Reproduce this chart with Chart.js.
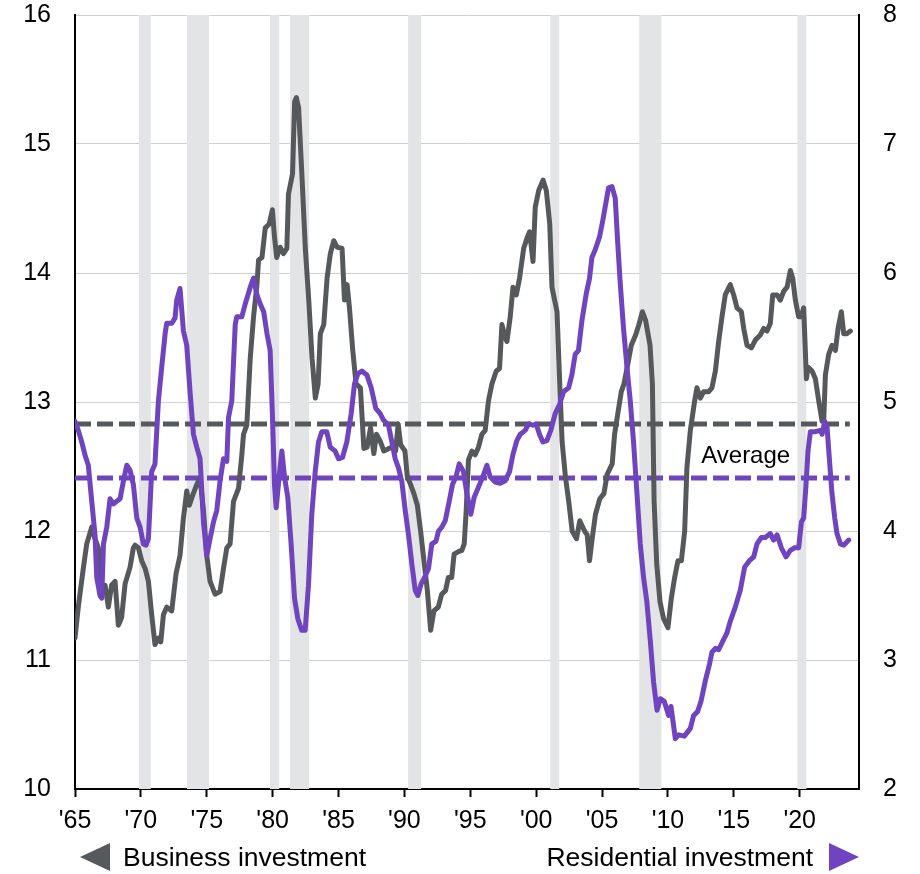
<!DOCTYPE html>
<html>
<head>
<meta charset="utf-8">
<script src="https://cdn.jsdelivr.net/npm/chart.js@4/dist/chart.umd.min.js"></script>
<style>
  body { margin: 0; background: #fff; }
  #wrap { position: relative; width: 920px; height: 874px; font-family: "Liberation Sans", Arial, sans-serif; }
  #chart { position: absolute; left: 0; top: 0; }
  .leg { position: absolute; top: 842px; font-size: 26.5px; line-height: 30px; color: #000; white-space: nowrap; }
  .tri { position: absolute; top: 843px; width: 0; height: 0; border-top: 14.5px solid transparent; border-bottom: 14.5px solid transparent; }
</style>
</head>
<body>
<div id="wrap">
  <canvas id="chart" width="920" height="874"></canvas>
  <div class="tri" style="left:80px; border-right:30px solid #56595b;"></div>
  <div class="leg" style="left:123px;">Business investment</div>
  <div class="leg" style="right:107px;">Residential investment</div>
  <div class="tri" style="left:829px; border-left:30px solid #7044be;"></div>
</div>
<script>
// business investment, % of GDP (left axis)
var bizYears = [1965.0,1965.25,1965.63,1965.89,1966.27,1966.52,1966.77,1967.03,1967.28,1967.53,1967.78,1968.04,1968.29,1968.54,1968.8,1969.18,1969.43,1969.56,1969.81,1970.06,1970.32,1970.57,1970.82,1971.07,1971.33,1971.51,1971.71,1971.96,1972.34,1972.67,1972.97,1973.23,1973.48,1973.68,1973.94,1974.24,1974.49,1974.75,1975.0,1975.25,1975.63,1976.01,1976.27,1976.52,1976.77,1977.03,1977.41,1977.66,1977.79,1978.04,1978.3,1978.55,1978.81,1978.93,1979.19,1979.44,1979.74,1979.98,1980.14,1980.31,1980.57,1980.82,1981.08,1981.2,1981.51,1981.67,1981.8,1981.97,1982.23,1982.48,1982.74,1982.99,1983.24,1983.45,1983.62,1983.88,1984.13,1984.38,1984.64,1984.89,1985.27,1985.45,1985.65,1985.83,1986.08,1986.33,1986.66,1986.79,1986.92,1987.17,1987.43,1987.68,1987.88,1988.19,1988.44,1988.82,1989.07,1989.33,1989.53,1989.71,1990.04,1990.22,1990.47,1990.72,1990.98,1991.23,1991.48,1991.74,1991.99,1992.24,1992.57,1992.83,1993.13,1993.33,1993.59,1993.77,1994.1,1994.36,1994.54,1994.69,1994.86,1995.12,1995.37,1995.62,1995.88,1996.13,1996.38,1996.64,1996.97,1997.22,1997.4,1997.65,1997.78,1998.03,1998.24,1998.49,1998.74,1999.05,1999.3,1999.5,1999.76,1999.93,2000.19,2000.52,2000.77,2001.03,2001.2,2001.58,2001.79,2001.97,2002.22,2002.47,2002.73,2003.06,2003.31,2003.67,2003.87,2004.05,2004.25,2004.5,2004.83,2005.14,2005.39,2005.77,2005.95,2006.15,2006.46,2006.66,2006.91,2007.22,2007.55,2007.8,2008.06,2008.31,2008.64,2008.82,2008.95,2009.15,2009.4,2009.67,2010.0,2010.26,2010.51,2010.76,2011.02,2011.27,2011.44,2011.7,2012.03,2012.2,2012.46,2012.71,2013.09,2013.34,2013.6,2013.85,2014.1,2014.35,2014.73,2014.99,2015.24,2015.57,2015.75,2016.0,2016.33,2016.63,2017.01,2017.27,2017.52,2017.77,2017.95,2018.28,2018.53,2018.79,2019.04,2019.29,2019.47,2019.67,2019.92,2020.1,2020.3,2020.51,2020.63,2020.94,2021.19,2021.44,2021.7,2021.82,2021.95,2022.2,2022.45,2022.71,2022.91,2023.16,2023.34,2023.59,2023.84];
var bizValues = [11.17,11.41,11.71,11.9,12.03,11.94,11.87,11.58,11.58,11.41,11.58,11.61,11.27,11.33,11.59,11.72,11.87,11.89,11.87,11.77,11.71,11.61,11.35,11.12,11.17,11.14,11.35,11.41,11.38,11.67,11.81,12.1,12.31,12.2,12.28,12.36,12.41,12.16,11.81,11.61,11.51,11.53,11.71,11.87,11.9,12.23,12.33,12.59,12.75,12.82,13.34,13.66,13.91,14.1,14.12,14.35,14.38,14.49,14.28,14.12,14.2,14.15,14.19,14.61,14.77,15.33,15.36,15.28,14.74,14.19,13.79,13.34,13.03,13.14,13.53,13.6,13.96,14.15,14.25,14.2,14.19,13.79,13.91,13.73,13.4,13.14,13.11,12.88,12.64,12.65,12.8,12.6,12.75,12.69,12.62,12.64,12.65,12.62,12.83,12.67,12.62,12.42,12.36,12.29,12.2,12.0,11.77,11.54,11.23,11.38,11.41,11.51,11.54,11.64,11.64,11.82,11.84,11.85,11.9,12.16,12.55,12.62,12.59,12.65,12.75,12.78,13.01,13.14,13.24,13.26,13.6,13.5,13.47,13.66,13.89,13.83,13.96,14.19,14.27,14.32,14.09,14.51,14.64,14.72,14.64,14.38,13.89,13.7,13.14,12.69,12.42,12.23,12.0,11.94,12.08,12.0,11.97,11.77,11.94,12.13,12.25,12.29,12.44,12.52,12.75,12.88,13.08,13.14,13.27,13.44,13.52,13.6,13.7,13.63,13.44,13.14,12.23,11.74,11.45,11.32,11.25,11.48,11.64,11.77,11.77,12.0,12.49,12.78,13.01,13.11,13.03,13.08,13.08,13.11,13.24,13.47,13.66,13.83,13.91,13.83,13.73,13.7,13.57,13.44,13.42,13.48,13.52,13.57,13.55,13.61,13.83,13.83,13.79,13.86,13.89,14.02,13.96,13.79,13.66,13.66,13.73,13.18,13.27,13.24,13.18,13.01,12.85,12.85,13.21,13.37,13.44,13.4,13.57,13.7,13.53,13.53,13.55];

// residential investment, % of GDP (right axis)
var resYears = [1965.0,1965.25,1965.51,1965.76,1966.01,1966.27,1966.52,1966.65,1966.9,1967.03,1967.16,1967.41,1967.66,1967.91,1968.17,1968.42,1968.68,1968.93,1969.18,1969.43,1969.69,1969.94,1970.19,1970.39,1970.57,1970.82,1971.07,1971.33,1971.58,1971.84,1971.96,1972.34,1972.59,1972.72,1972.97,1973.23,1973.48,1973.73,1973.99,1974.24,1974.49,1974.75,1975.0,1975.25,1975.51,1975.76,1976.01,1976.27,1976.52,1976.65,1976.9,1977.16,1977.28,1977.66,1977.92,1978.3,1978.55,1978.81,1979.06,1979.32,1979.57,1979.81,1979.99,1980.14,1980.27,1980.49,1980.7,1980.9,1981.15,1981.4,1981.66,1981.91,1982.21,1982.47,1982.72,1982.97,1983.23,1983.48,1983.73,1984.11,1984.37,1984.74,1985.0,1985.3,1985.63,1985.96,1986.21,1986.47,1986.77,1987.15,1987.48,1987.83,1988.16,1988.41,1988.79,1989.05,1989.3,1989.55,1989.81,1990.06,1990.31,1990.57,1990.82,1991.02,1991.27,1991.53,1991.83,1992.08,1992.39,1992.59,1992.84,1993.1,1993.4,1993.65,1993.91,1994.16,1994.48,1994.74,1995.04,1995.29,1995.62,1995.95,1996.26,1996.51,1996.89,1997.27,1997.65,1997.98,1998.23,1998.53,1998.79,1999.17,1999.42,1999.75,2000.0,2000.25,2000.51,2000.81,2001.11,2001.44,2001.77,2002.08,2002.46,2002.71,2002.96,2003.21,2003.47,2003.8,2004.05,2004.23,2004.48,2004.81,2005.06,2005.32,2005.49,2005.75,2006.0,2006.18,2006.38,2006.63,2006.89,2007.14,2007.39,2007.65,2007.9,2008.15,2008.4,2008.66,2008.91,2009.17,2009.42,2009.72,2010.05,2010.23,2010.56,2010.81,2011.24,2011.7,2011.95,2012.25,2012.51,2012.84,2013.16,2013.34,2013.6,2013.85,2014.23,2014.48,2014.73,2015.11,2015.49,2015.82,2016.18,2016.51,2016.76,2017.09,2017.39,2017.77,2018.02,2018.28,2018.61,2018.96,2019.29,2019.62,2019.92,2020.13,2020.3,2020.48,2020.63,2020.81,2021.19,2021.57,2021.7,2021.9,2022.08,2022.25,2022.45,2022.66,2022.83,2023.09,2023.34,2023.72];
var resValues = [4.85,4.78,4.69,4.59,4.51,4.23,3.97,3.64,3.5,3.48,3.9,4.03,4.25,4.21,4.23,4.25,4.39,4.51,4.47,4.36,4.1,4.03,3.9,3.89,3.94,4.46,4.52,5.01,5.27,5.53,5.61,5.61,5.65,5.79,5.88,5.55,5.44,5.08,4.75,4.65,4.56,4.07,3.81,3.94,4.07,4.16,4.39,4.56,4.54,4.88,5.01,5.6,5.66,5.66,5.76,5.89,5.96,5.83,5.76,5.7,5.53,5.4,4.88,4.36,4.18,4.42,4.62,4.42,4.26,3.9,3.48,3.32,3.23,3.23,3.58,4.13,4.46,4.69,4.77,4.77,4.65,4.62,4.56,4.57,4.69,4.91,5.14,5.22,5.24,5.21,5.11,4.95,4.91,4.86,4.82,4.69,4.56,4.49,4.38,4.16,3.97,3.74,3.54,3.5,3.59,3.64,3.71,3.9,3.92,4.0,4.03,4.08,4.23,4.36,4.42,4.52,4.46,4.29,4.13,4.26,4.34,4.42,4.51,4.42,4.38,4.37,4.39,4.46,4.59,4.7,4.75,4.78,4.83,4.82,4.83,4.75,4.69,4.7,4.78,4.91,4.98,5.08,5.11,5.21,5.37,5.4,5.63,5.84,5.96,6.12,6.18,6.28,6.41,6.56,6.66,6.67,6.58,6.25,5.92,5.57,5.27,5.01,4.69,4.29,3.9,3.64,3.45,3.15,2.83,2.61,2.7,2.68,2.57,2.64,2.39,2.42,2.41,2.47,2.57,2.6,2.68,2.84,2.97,3.06,3.09,3.08,3.16,3.21,3.3,3.41,3.54,3.72,3.77,3.8,3.9,3.95,3.95,3.98,3.93,3.97,3.87,3.8,3.85,3.87,3.87,4.07,4.1,4.36,4.62,4.77,4.77,4.78,4.75,4.85,4.8,4.56,4.29,4.1,3.98,3.9,3.89,3.93];

// long-run averages
var bizAverage = 12.83;
var resAverage = 4.41;
var averageSpan = [1965, 2023.8];

// recessions (start, end)
var recessionStarts = [1969.85, 1973.5, 1979.8, 1981.33, 1990.28, 2001.07, 2007.82, 2019.82];
var recessionEnds = [1970.75, 1975.17, 1980.5, 1982.77, 1991.27, 2001.75, 2009.5, 2020.5];

var xTicks = [1965, 1970, 1975, 1980, 1985, 1990, 1995, 2000, 2005, 2010, 2015, 2020];

var GRAY = '#56595b';
var PURPLE = '#7044be';
var FONT = '"Liberation Sans", Arial, sans-serif';

function toPoints(xs, ys) {
    return xs.map(function (x, i) { return { x: x, y: ys[i] }; });
}

// y axes: fixed width, and only half a label of room above/below
function fitY(width) {
    return function (scale) {
        scale.width = width;
        scale.paddingTop = 15;
        scale.paddingBottom = 15;
    };
}

var recessionBands = {
    id: 'recessionBands',
    beforeDatasetsDraw: function (chart) {
        var ctx = chart.ctx, area = chart.chartArea, x = chart.scales.x;
        ctx.save();
        ctx.fillStyle = '#e3e4e6';
        for (var i = 0; i < recessionStarts.length; i++) {
            var x0 = x.getPixelForValue(recessionStarts[i]);
            var x1 = x.getPixelForValue(recessionEnds[i]);
            ctx.fillRect(x0, area.top, x1 - x0, area.bottom - area.top);
        }
        ctx.restore();
    }
};

var averageLabel = {
    id: 'averageLabel',
    afterDatasetsDraw: function (chart) {
        var ctx = chart.ctx;
        ctx.save();
        ctx.font = '24px ' + FONT;
        ctx.fillStyle = '#000';
        ctx.textAlign = 'center';
        ctx.textBaseline = 'alphabetic';
        ctx.fillText('Average', chart.scales.x.getPixelForValue(2015.9), chart.scales.y.getPixelForValue(12.53));
        ctx.restore();
    }
};

var ctx = document.getElementById('chart');

new Chart(ctx, {
    type: 'line',
    data: {
        datasets: [
            {
                label: 'Residential investment',
                data: toPoints(resYears, resValues),
                yAxisID: 'y2',
                borderColor: PURPLE,
                borderWidth: 5,
                order: 1
            },
            {
                label: 'Business investment',
                data: toPoints(bizYears, bizValues),
                yAxisID: 'y',
                borderColor: GRAY,
                borderWidth: 5,
                order: 2
            },
            {
                label: 'Residential average',
                data: toPoints(averageSpan, [resAverage, resAverage]),
                yAxisID: 'y2',
                borderColor: PURPLE,
                borderWidth: 5,
                borderDash: [16, 6],
                borderCapStyle: 'butt',
                order: 3
            },
            {
                label: 'Business average',
                data: toPoints(averageSpan, [bizAverage, bizAverage]),
                yAxisID: 'y',
                borderColor: GRAY,
                borderWidth: 5,
                borderDash: [16, 6],
                borderCapStyle: 'butt',
                order: 4
            }
        ]
    },
    options: {
        responsive: false,
        animation: false,
        devicePixelRatio: 1,
        layout: { padding: 0 },
        elements: {
            point: { radius: 0 },
            line: { tension: 0, borderJoinStyle: 'round', borderCapStyle: 'round' }
        },
        plugins: {
            legend: { display: false },
            tooltip: { enabled: false }
        },
        scales: {
            x: {
                type: 'linear',
                min: 1965,
                max: 2024.5,
                afterBuildTicks: function (scale) {
                    scale.ticks = xTicks.map(function (v) { return { value: v }; });
                },
                afterFit: function (scale) { scale.height = 85; },
                grid: { drawOnChartArea: false, drawTicks: true, tickLength: 8, tickColor: '#000', tickWidth: 2 },
                border: { color: '#000', width: 2 },
                ticks: {
                    color: '#000',
                    padding: 9,
                    maxRotation: 0,
                    autoSkip: false,
                    font: { family: FONT, size: 25 },
                    callback: function (v) { return "'" + String(v).slice(2); }
                }
            },
            y: {
                position: 'left',
                min: 10,
                max: 16,
                afterFit: fitY(75),
                grid: { color: '#d0d0d0', lineWidth: 1, drawTicks: false },
                border: { color: '#000', width: 2 },
                ticks: { stepSize: 1, color: '#000', padding: 24, font: { family: FONT, size: 25 } }
            },
            y2: {
                position: 'right',
                min: 2,
                max: 8,
                afterFit: fitY(61),
                grid: { display: false, drawTicks: false },
                border: { display: true, color: '#000', width: 2 },
                ticks: { stepSize: 1, color: '#000', padding: 24, font: { family: FONT, size: 25 } }
            }
        }
    },
    plugins: [recessionBands, averageLabel]
});
</script>
</body>
</html>
